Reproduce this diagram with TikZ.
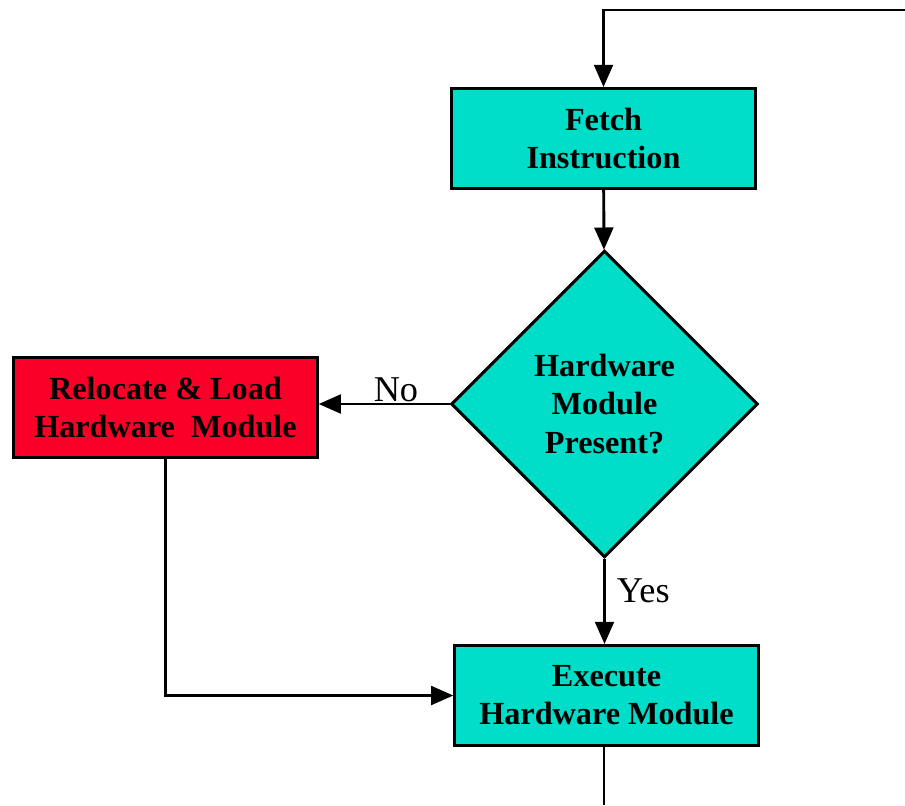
\documentclass[tikz,border=0pt]{standalone}
\usepackage{fontspec}
\setmainfont{Liberation Serif}
\usetikzlibrary{shapes.geometric,arrows.meta}
\definecolor{boxteal}{RGB}{0,221,200}
\definecolor{boxred}{RGB}{250,0,40}
\tikzset{
  box/.style={draw=black, line width=2.5pt, minimum width=9.1cm, minimum height=3cm,
    inner sep=0pt, align=center, font=\fontsize{27.5}{32.5}\selectfont\bfseries},
  test/.style={box, shape=diamond, aspect=1, minimum width=9.2cm, minimum height=9.2cm},
  flow/.style={line width=2.5pt, -{Triangle[length=19pt,width=16pt]}},
  lbl/.style={font=\fontsize{31}{36}\selectfont}
}
\begin{document}
\begin{tikzpicture}[x=0.03cm, y=-0.03cm]
\useasboundingbox (0,0) rectangle (905,805);
\node[box, fill=boxteal] (fetch) at (603.5,138.5) {Fetch\\Instruction};
\node[test, fill=boxteal] (hw) at (604.5,404) {Hardware\\Module\\Present?};
\node[box, fill=boxred] (reloc) at (165.5,407.5) {Relocate \& Load\\Hardware~ Module};
\node[box, fill=boxteal] (exec) at (606.5,695.5) {Execute\\Hardware Module};
\coordinate (top) at (905,10);
\coordinate (bot) at (604,805);
% loop back in from the right
\draw[flow] (top) -| (fetch.north);
\draw[flow] (fetch) -- (hw);
\draw[flow] (hw.west) -- node[lbl, above, pos=0.41, inner sep=1pt] {No} (reloc.east |- hw.west);
\draw[flow] (hw.south) -- node[lbl, right, pos=0.37, xshift=6pt] {Yes} (exec.north -| hw.south);
\draw[flow] (reloc.south) |- (exec.west);
\draw[line width=2.5pt] (exec.south -| bot) -- (bot);
\end{tikzpicture}
\end{document}
